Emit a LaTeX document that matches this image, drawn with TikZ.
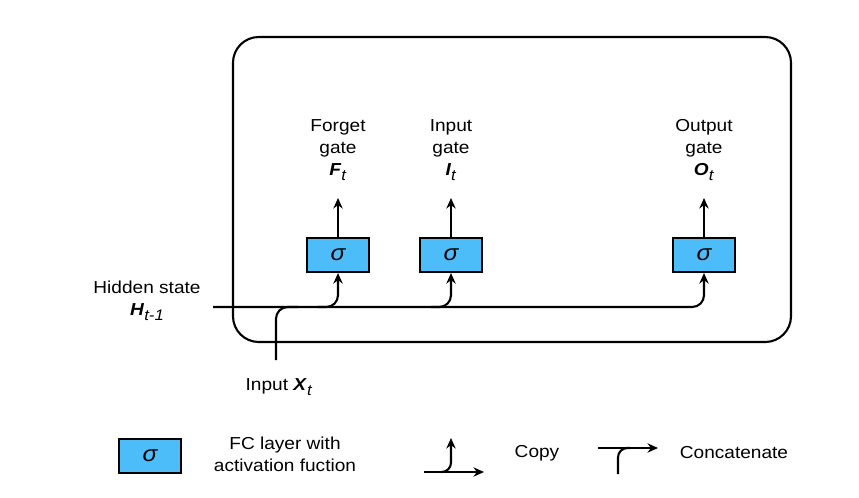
\documentclass[tikz,border=0pt]{standalone}
\usepackage{fontspec}
\setmainfont[FakeStretch=1.1]{Liberation Sans}
\usetikzlibrary{arrows.meta}
\definecolor{fcblue}{RGB}{77,189,250}
\newcommand{\gatesym}[2]{\textbf{\textit{#1}}\raisebox{-0.6ex}{\fontsize{13}{13}\selectfont\textit{#2}}}

\begin{document}
\begin{tikzpicture}[x=0.03cm,y=-0.03cm,line width=1.8pt,>={Stealth[length=9pt,width=8pt]}]
  \tikzstyle{fclayer}=[draw,fill=fcblue,minimum width=1.86cm,minimum height=1.02cm,inner sep=0pt,font=\fontsize{19}{19}\selectfont\itshape]
  \tikzstyle{txt}=[align=center,inner sep=2pt,font=\fontsize{14.8}{18.7}\selectfont]
  \tikzstyle{gatelbl}=[txt,anchor=south,outer ysep=4.4mm]
  \useasboundingbox (0,0) rectangle (859,497);

  % cell
  \draw[rounded corners=22] (233,37) rectangle (791,342);

  % gates
  \node[fclayer] (forget) at (338,255) {σ};
  \node[fclayer] (input) at (451,255) {σ};
  \node[fclayer] (output) at (704,255) {σ};

  \node[gatelbl] (forgetlbl) at (338,198) {Forget\\gate\\\gatesym{F}{t}};
  \draw[->] (forget) -- (forgetlbl);

  \node[gatelbl] (inputlbl) at (451,198) {Input\\gate\\\gatesym{I}{t}};
  \draw[->] (input) -- (inputlbl);

  \node[gatelbl] (outputlbl) at (704,198) {Output\\gate\\\gatesym{O}{t}};
  \draw[->] (output) -- (outputlbl);

  % hidden state
  \node[txt] (hidden) at (147,301) {Hidden state\\\gatesym{H}{t-1}};
  \coordinate (hstart) at (213,307);
  \draw[->,rounded corners=10] (hstart) -- (output.south |- hstart) -- (output.south);

  \coordinate (fbranch) at (318,307);
  \draw[->,rounded corners=10] (fbranch) -- (forget.south |- hstart) -- (forget.south);
  \coordinate (ibranch) at (431,307);
  \draw[->,rounded corners=10] (ibranch) -- (input.south |- hstart) -- (input.south);

  % input
  \node[txt] (xlbl) at (279,387) {Input \gatesym{X}{t}};
  \coordinate (xin) at (276,360);
  \coordinate (xjoin) at (298,307);
  \draw[rounded corners=10] (xin) -- (xin |- hstart) -- (xjoin);

  % legend
  \node[fclayer] (legendfc) at (150,456) {σ};
  \node[txt] (legendfctxt) at (285,454) {FC layer with\\activation fuction};

  \coordinate (copyl) at (424,472);
  \coordinate (copyr) at (484,472);
  \coordinate (copyfrom) at (441,472);
  \coordinate (copyup) at (451,438);
  \draw[->] (copyl) -- (copyr);
  \draw[->,rounded corners=8] (copyfrom) -- (copyup |- copyl) -- (copyup);
  \node[txt] (copytxt) at (537,453) {Copy};

  \coordinate (catl) at (598,448);
  \coordinate (catr) at (658,448);
  \coordinate (catin) at (618,474);
  \coordinate (catjoin) at (630,448);
  \draw[->] (catl) -- (catr);
  \draw[rounded corners=8] (catin) -- (catin |- catl) -- (catjoin);
  \node[txt] (cattxt) at (734,453) {Concatenate};
\end{tikzpicture}
\end{document}
